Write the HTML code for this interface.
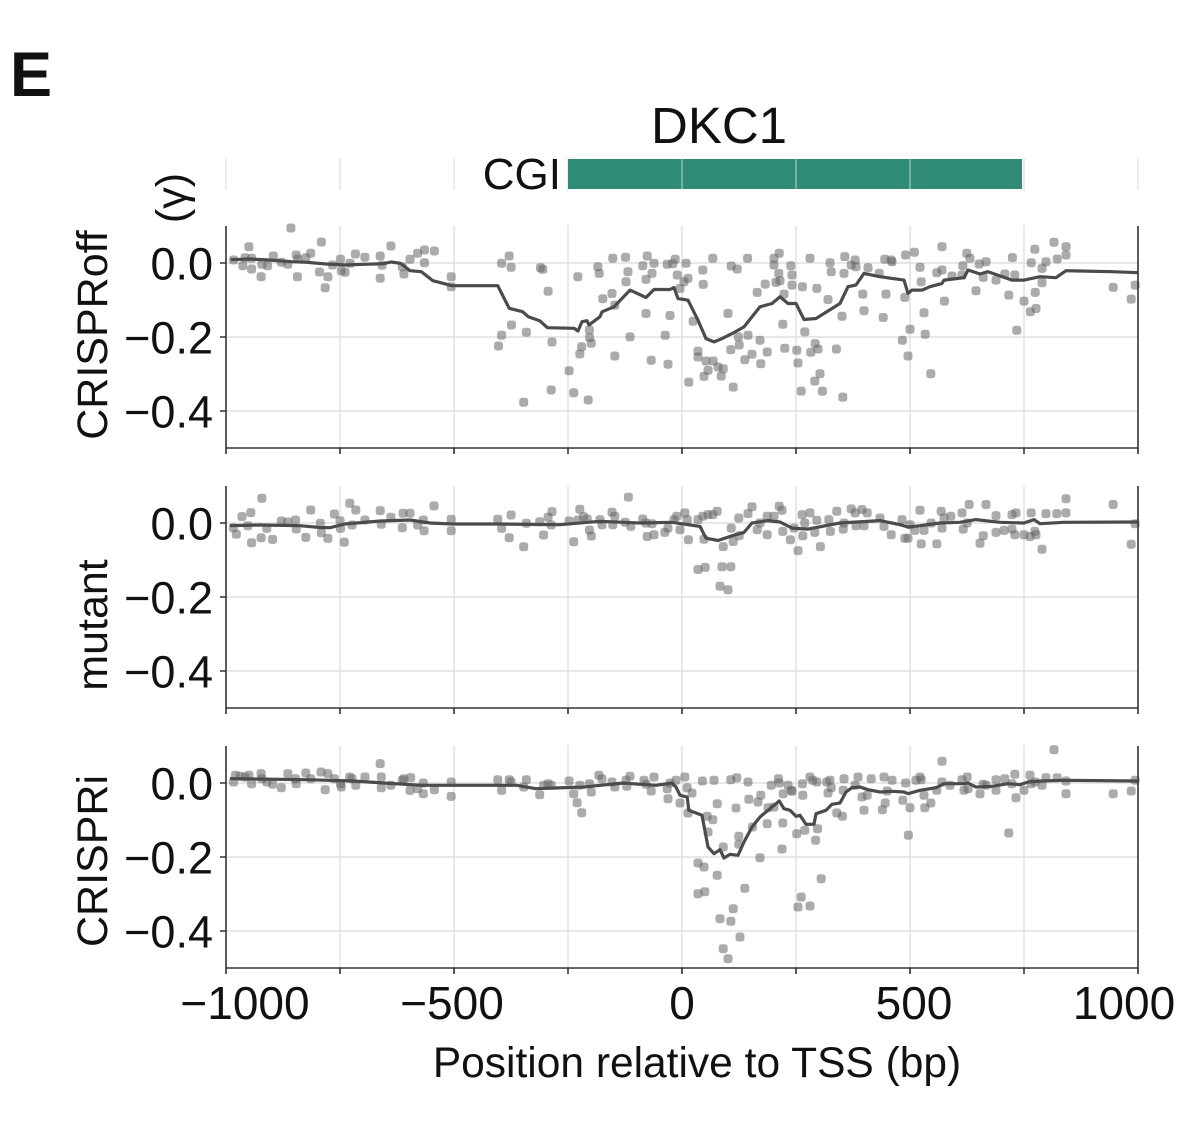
<!DOCTYPE html>
<html>
<head>
<meta charset="utf-8">
<style>
html,body{margin:0;padding:0;background:#fff}
svg{display:block}
text{font-family:"Liberation Sans",Arial,sans-serif;fill:#111}
</style>
</head>
<body>
<svg width="1188" height="1132" viewBox="0 0 1188 1132" xmlns="http://www.w3.org/2000/svg">
<defs>
<marker id="m" markerWidth="10" markerHeight="10" refX="5" refY="5" markerUnits="userSpaceOnUse" overflow="visible">
<rect x="0.5" y="0.5" width="9" height="9" rx="3" fill="#666" fill-opacity="0.55"/>
</marker>
</defs>
<rect width="1188" height="1132" fill="#fff"/>

<text x="10" y="96" font-size="63" font-weight="bold">E</text>
<text x="651" y="143" font-size="51">DKC1</text>

<g stroke="#dcdcdc" stroke-width="1.2">
<path d="M226,158V190M340,158V190M454,158V190M1138,158V190M568,158V190M1024,158V190"/>
</g>
<rect x="568" y="159" width="454" height="30" fill="#2f8a76"/>
<g stroke="#a6c9bd" stroke-width="1.2">
<path d="M682,159V189M796,159V189M910,159V189"/>
</g>
<text x="561" y="189" font-size="44" text-anchor="end">CGI</text>

<g stroke="#dadada" stroke-width="1.2" fill="none">
<path d="M226,263H1138M226,337H1138M226,411H1138M340,226V448M454,226V448M568,226V448M682,226V448M796,226V448M910,226V448M1024,226V448"/>
<path d="M226,523H1138M226,597H1138M226,671H1138M340,486V708M454,486V708M568,486V708M682,486V708M796,486V708M910,486V708M1024,486V708"/>
<path d="M226,783H1138M226,857H1138M226,931H1138M340,746V968M454,746V968M568,746V968M682,746V968M796,746V968M910,746V968M1024,746V968"/>
</g>

<polyline fill="none" stroke="none" marker-start="url(#m)" marker-mid="url(#m)" marker-end="url(#m)" points="233.6,260 242.8,265.7 245.1,257.7 248.9,246.7 251.6,258.3 251.6,269 261.1,276.7 261.9,264.3 267.6,265.7 273.3,256 281.3,262.3 287.8,264.3 290.9,228 296.2,255 297.4,276.7 297.8,259 305.8,257.7 310.7,253.3 319.5,272 321.4,242 325.2,287.7 327.9,276.7 332.5,265 340.5,259.3 341.3,270.7 345.1,272.3 350,263.3 355.4,254 364.9,257.3 380.2,256 380.2,278.3 382.1,265.3 390.9,246 402.3,266.7 403.9,274 410,259.3 417.6,253.3 424.5,250 424.5,262.7 434.4,251 451.2,276.7 451.2,286.7 498.5,346 501.6,263.3 501.6,335.3 509.2,256 511.1,267.3 511.5,325 523.7,402.3 526.4,332.3 540.5,267.7 542.8,269.3 548.1,291.3 551.2,390 552,342 569.1,370.7 573.7,392.7 577.9,276.7 579.8,354 581.7,346.7 588.2,400 589.4,330 591.3,343.3 597.8,266.7 589.6,337.6 599.2,273.4 602.8,298.8 612,293.5 612.8,258.3 614.8,356 614.8,305.1 625.6,257.3 626,281.7 628,271.7 630,336.9 642.8,265.7 646,313.5 646,279.4 647.2,256 651.2,360.3 652,273.4 654,263.3 665.2,335.2 667.2,264.3 668,364.3 670,315.5 672.8,263.7 675.2,259.3 677.2,275 680,288.4 684,281.7 686,263.3 688,278.4 688.8,382.1 693.2,321.2 698,351.3 698,357 702.8,270 703.2,284.4 704,376.4 706,361 708,370.4 712.8,258.3 713.2,361 718,367 721.2,376 723.2,368.7 728,313.5 730.8,349.6 731.2,266 733.2,387.1 737.2,269 738.4,336.9 739.2,345 744.8,359.7 747.6,258.3 748,335.2 752,354.3 757.2,292.4 760,340.3 760.8,363.7 765.2,284.1 767.2,352 774,265 774,258.3 776,282.4 779.2,253.3 778.8,273.4 780,280.7 782.8,324.2 784,294.1 784.8,348.3 790.8,265.7 792,285.1 792,275 796.8,350.3 798,363 801.2,391.1 802.4,286.7 804.8,331.9 810,258.3 810.8,352.3 814.8,381.1 815.2,343.6 816.8,288.4 818,349 820,373.7 822.4,391.1 828,299.5 830,262.7 831.2,271.7 836.4,349 842,316.2 842.8,397.1 844,273.4 844.8,256.6 851.2,265 855.2,260 856,266.7 862.8,294.1 864,310.8 868,267.7 879.2,273.4 883.2,317.5 884.8,259.3 886,294.1 891.2,260 892,261.7 902.4,340.3 904.8,297.4 905.6,255 908,356 910,329.2 914.4,252.3 920,267.3 921.2,281.7 924,312.8 925.2,334.2 930.8,373.7 936.8,272.7 942,246.6 942,270 944.4,301.1 952,276 962,275 962.8,265.7 966.8,253.3 970,258.3 976,290.8 979.2,264 983.2,277.4 986,261.7 996,280.1 1004.8,274 1008.8,295.1 1012.4,257.6 1014.8,275 1016.8,330.2 1024,301.1 1030.4,311.8 1031.2,262.7 1034.8,249.3 1036,308.5 1035.2,292.4 1042,268.4 1042,282.7 1046,261.7 1054,242.3 1057.2,259 1066,246.6 1066,255 1113.2,287.4 1131.2,299.1 1135.2,285.1"/>

<polyline fill="none" stroke="none" marker-start="url(#m)" marker-mid="url(#m)" marker-end="url(#m)" points="233.3,527.7 236.3,534.1 242,516.6 247.8,525.7 250.8,512.6 251.6,542.7 261.1,537.7 261.9,498.3 266.8,528.4 272.6,539.4 281.3,521 287.8,522 295.5,520 296.2,529 305.8,537.4 310.7,510 320.3,523.3 321.4,532.7 327.9,538.4 334.4,514 340.1,520.7 340.5,528.4 344.3,542.1 349.7,503.3 352,525 355.8,510 364.9,520 380.2,510.6 381.3,524.3 390.9,517.3 402.3,527.7 403.1,513.3 410,513.3 417.6,525 423.3,520 424.1,530.7 434,505.9 451.2,519.3 451.2,530.7 497.8,519.3 501.6,528.4 509.2,537.7 511.1,515 523.7,546.7 526.4,523.3 539.7,521.7 543.6,535 548.1,517.3 552,511.6 551.2,525 569.1,521 573.7,541.7 577.9,520 579.8,509.3 583.6,516.6 589.4,530 591.3,536 587.2,519 600,519.6 602,524.7 612,512.2 612.8,524.7 614.8,516.3 625.2,522.3 628.4,497.1 630.8,526.4 642.8,519 646,523 647.2,536.5 652,523.7 654,534.8 664.8,532.4 668,528.1 674,519.6 676.8,516.3 680,529.7 684.8,512.9 687.2,519.6 688.4,539.8 698,569.5 698,519.6 702.8,516.3 704,539.2 705.2,567.4 708,514.6 712.8,514.6 717.2,511.2 720,586.3 722,566.8 723.2,546.6 728,589.7 730.8,566.8 731.2,528.1 733.2,541.5 738.8,518 739.2,535.8 748,513.6 752,506.8 757.2,529.7 760,523 767.2,534.8 767.2,516.3 774,516.3 779.2,506.2 782,510.2 782.8,531.4 790.4,539.8 794,528.1 798,550.6 802,514.6 802.8,535.8 804.8,523 810,512.9 814.8,532.4 816.8,520.3 820.4,546.6 828.8,519.6 830.4,531.4 836.8,511.2 843.2,529.1 844,523 851.2,508.9 855.2,512.9 856,525.7 862,509.5 864,525.7 867.2,512.9 880,518 884,526.4 891.2,534.8 902,519.6 904.8,538.2 908,538.2 910,524.7 914.8,530.4 920,510.2 921.2,543.9 924,530.4 931.2,523 936.8,543.9 941.2,511.2 942,528.1 944,518 950.8,516.3 962,512.9 963.2,529.1 967.2,523 969.2,504.5 980,543.2 983.2,535.8 986,504.5 996,532.4 996,515.6 1004,530.4 1012,529.1 1012,514.6 1014.8,534.8 1016,512.9 1024,534.8 1030,536.5 1031.2,512.9 1034.8,531.4 1036,534.8 1042,549.3 1046,513.6 1056.8,513.6 1066,498.8 1066,512.9 1113.2,504.5 1131.2,544.2 1135.2,523.7"/>

<polyline fill="none" stroke="none" marker-start="url(#m)" marker-mid="url(#m)" marker-end="url(#m)" points="233.6,782 235.5,775.3 240.1,776.3 245.1,777 248.9,775.3 251.6,783.7 261.1,773.6 261.9,778.7 266.8,782 272.6,784.3 281.3,787.7 287.8,773.6 295.5,778.7 296.2,783.7 305.8,773 310.7,778.7 321,772 325.2,789.7 327.9,773.6 334.4,778.7 340.5,783.7 341.3,787 349.7,777 352,778.7 355.8,785.3 364.9,777 380.2,763.6 381.3,777 381.3,787.7 390.9,785.3 402.3,780.3 403.9,778.7 410,790.4 410.7,777.6 417.6,788.7 423.3,783 423.3,793.7 434.4,789.7 451.2,782 451.2,796.4 497.8,779.7 501.6,790.4 509.2,779.7 511.1,782 523.7,787 526.4,779.7 539.7,794.7 543.6,785.3 548.1,783.7 551.2,785.3 569.1,781 573.7,793.7 577.1,802.7 579.8,785.3 581.7,812.8 589.4,783.7 591.3,792 598.9,775.3 602,778.7 612,782 614.8,787 626,780.3 626.8,786.3 630,776.3 644,780.3 646,784.3 651.2,791 654,777 667.2,788.7 668,798.7 670,783 676,780.3 680,803 684.8,777 687.2,787.7 688,813 692,793 698,863 698,893.7 702.4,781 704,867 704.8,891.7 707.2,816.3 708,832 712.8,819.7 714,780.3 717.2,803.7 717.2,875.3 720,918.7 723.2,847 723.2,948.7 728,958.7 730.8,779.7 730.8,921.3 733.2,908.7 736,808 736.8,777.7 738.8,836.3 738.8,844.3 740,937 744.8,888.3 748,782 748.8,799.3 752.4,827 758,802 760,857.7 760.8,795.3 767.2,823.7 768,807.7 771.2,785.3 774,807 778.4,778.7 779.2,783 782,849 782.8,823 783.2,793.7 788,785.3 791.2,790.3 792,791.3 796.8,833.7 798,907 801.2,897 802.4,783.7 802.8,795.3 804.8,830.3 810,777 810,906 812.8,780.3 815.6,840.3 816.8,782 817.6,828.7 821.2,878.7 826.8,782 828,793 830,780.3 831.2,787.7 836.8,813 842.4,816.3 843.2,790.3 844,778.7 855.2,785.3 858,777 862,797 864,810.3 867.2,795.3 871.2,778.7 882.4,809.7 884,777 885.2,803 887.2,791 892,780.3 902.8,800.3 905.6,783 908.4,835.3 910,807.7 916,780.3 920,777 921.2,779.7 924,795.3 924.8,807.7 930.8,803 936.8,790.3 942,761.3 942,782 950,785.3 962,779.7 964,790.3 967.2,777 968,788.7 980,793.7 983.2,784.3 986,785.3 996,790.3 996,779.7 1004.8,778.7 1008.8,833 1012,783.7 1014.8,774.3 1016,797.7 1024,790.3 1030,775.3 1031.2,783.7 1035.2,782 1042,785.3 1046,777.7 1054,749.7 1057.2,777.7 1066,781 1066,793.7 1113.2,793.7 1131.2,791 1135.2,780.3"/>

<g fill="none" stroke="#4b4b4b" stroke-width="3.2" stroke-linejoin="round">
<polyline points="230.6,259.7 249.7,259 268.7,260 291.6,261.7 306.9,262.3 326,264 345.1,265 364.2,264.3 383.3,263.7 390.9,262 400.4,263.3 410,270.7 421.4,271.7 432.9,280.7 452,285.7 497.8,285.7 501.6,293.3 509.2,308.3 522.6,311.7 528.3,316.7 539.7,320.7 547.4,327.7 574.1,328.3 578,331 582,321.7 587,320.7 589,325 600,316.7 602,311.8 614,306.8 630,290.1 646,297.5 654,289.5 670,289.5 674,287.5 678,298.5 688,300.2 698,320.2 706,338.6 714,341.9 722,338.6 732,333.6 744,326.9 760,306.8 772,303.5 780,296.8 788,303.5 796,303.5 804,319.5 816,318.5 832,308.5 840,303.5 848,286.7 856,285 864,273.4 880,276.7 904,280.1 908,293.4 912,290.1 922,290.1 930,286.7 942,283.4 944,280.1 964,277.7 968,270 980,274 988,271.7 1012,280.1 1024,280.1 1040,276.7 1056,277.7 1066,270.7 1080,271 1112,271.7 1138,272.7"/>
<polyline points="230,525.7 260,525 300,525.7 320,527.5 330,527.7 345,524 380,521 410,520 430,523 452,524 500,524 540,524.5 560,524.7 600,521.3 640,523 672,522.3 700,526.4 706,538.2 718,540.5 732,535.8 744,532.4 752,523 768,520.6 780,522 792,528.1 808,529.1 840,523 880,520.6 900,524.7 908,527 920,525.7 940,523 960,522.3 976,519.6 1000,522.3 1024,523 1034,519.6 1040,523.7 1064,522.3 1138,522"/>
<polyline points="230,778.7 306.9,779.7 352.7,781 383.3,783 421.4,785.3 516.8,785.3 535.9,788.7 555,788 584,787 600,785.3 624,783 640,784.3 656,785.3 672,783 676,787 680,795.3 687.2,797 688.8,810.3 702,815.3 708,847 714,853.7 720,849.7 724,858 730,854.3 738,855.3 744,842 752,827 760,817 768,810.3 776,803.7 779.2,801 784,808.7 790,810.3 796,816.3 800,815.3 806,824.3 814,824.3 816,813.7 826,810.3 832,804.3 840,803 846,792 852,787.7 860,787 868,789.7 880,792 892,791.3 904,792 908,793.7 920,790.3 936,787.7 944,783.7 964,783.7 968,783 976,787 992,786.3 1008,783.7 1020,784.7 1028,782 1040,781 1064,780.3 1138,781"/>
</g>

<g fill="none" stroke="#333" stroke-width="1.6">
<path d="M226,226V448H1138V226"/>
<path d="M226,486V708H1138V486"/>
<path d="M226,746V968H1138V746"/>
<path d="M220,263H226M220,337H226M220,411H226M220,523H226M220,597H226M220,671H226M220,783H226M220,857H226M220,931H226"/>
<path d="M226,448V454M340,448V454M454,448V454M568,448V454M682,448V454M796,448V454M910,448V454M1024,448V454M1138,448V454"/>
<path d="M226,708V714M340,708V714M454,708V714M568,708V714M682,708V714M796,708V714M910,708V714M1024,708V714M1138,708V714"/>
<path d="M226,968V974M340,968V974M454,968V974M568,968V974M682,968V974M796,968V974M910,968V974M1024,968V974M1138,968V974"/>
</g>

<g font-size="45" text-anchor="end">
<text x="213" y="279.5">0.0</text>
<text x="213" y="353.5">−0.2</text>
<text x="213" y="427.5">−0.4</text>
<text x="213" y="539.5">0.0</text>
<text x="213" y="613.5">−0.2</text>
<text x="213" y="687.5">−0.4</text>
<text x="213" y="799.5">0.0</text>
<text x="213" y="873.5">−0.2</text>
<text x="213" y="947.5">−0.4</text>
</g>

<g font-size="46" text-anchor="middle">
<text x="245" y="1019">−1000</text>
<text x="452" y="1019">−500</text>
<text x="682" y="1019">0</text>
<text x="914" y="1019">500</text>
<text x="1124" y="1019">1000</text>
</g>
<text x="697" y="1077" font-size="42.5" text-anchor="middle">Position relative to TSS (bp)</text>

<g font-size="43" text-anchor="middle">
<text transform="translate(107,335) rotate(-90)">CRISPRoff</text>
<text transform="translate(186,198) rotate(-90)">(γ)</text>
<text transform="translate(107,625) rotate(-90)">mutant</text>
<text transform="translate(107,861) rotate(-90)">CRISPRi</text>
</g>
</svg>
</body>
</html>
